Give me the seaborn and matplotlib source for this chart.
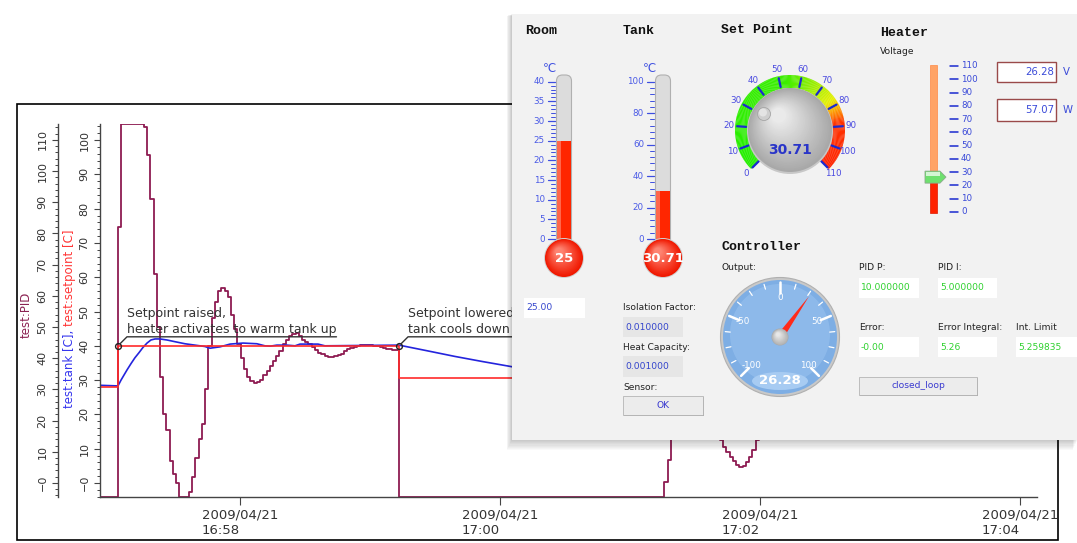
import numpy as np
import matplotlib
matplotlib.use("Agg")
import matplotlib.pyplot as plt
import seaborn as sns
from matplotlib.patches import Rectangle, Circle, Wedge, Polygon, FancyBboxPatch, Ellipse
from matplotlib.colors import LinearSegmentedColormap, to_rgb
from matplotlib.ticker import FuncFormatter

W, H = 1077, 543

# ---- trend data (time in seconds relative to 2009/04/21 16:58:00) ----
PID_MIN = -4.5
PID_T0 = -56.3          # setpoint raised
PID_DT = 1.49
PID_A = [82, 115, 115, 115, 115, 115, 115, 115, 114, 105, 91, 67, 50, 34, 22, 17, 7, 3, 0,
         -4.5, -4.5, -4.5, -3, 2, 8, 14, 19, 30, 44, 53, 58, 61.5, 62.5, 61.5, 59.5, 54, 49.5,
         44.5, 40, 36.5, 34, 32.8, 32.2, 32.3, 33, 34.5, 36, 37.6, 39.2, 40.7, 42.4, 44.4, 46,
         47, 47.8, 48, 47.2, 46, 45.3, 44.6, 43.6, 42.6, 41.7, 41.2, 40.7, 40.4, 40.5, 40.8, 41,
         41.5, 42.2, 42.8, 43.3, 43.6, 43.9, 44.1, 44.2, 44.2, 44.1, 44, 43.9, 43.6, 43.3, 43,
         42.8, 42.7, 42.6]
PID_OFF_T = 73.4        # setpoint lowered
PID_B_T0 = 195.9
PID_B_DT = 1.5
PID_B = [0.3, 7.4, 20, 35, 48, 56, 60, 61, 59, 54, 47, 40, 33, 27, 22, 18, 15.5, 13.8, 11.5,
         10, 8.2, 7, 5.8, 5.1, 5.6, 6.8, 8.3, 10.6, 13.8, 17, 21, 25, 29, 33, 36, 38, 39, 39,
         38, 36, 34, 32, 30, 28.5, 27.5, 27, 26.8, 26.9, 27.2, 27.4, 27.3, 27, 26.7, 26.5,
         26.4, 26.3, 26.28]

TANK_T = [-70, -56.3, -54.9, -53.5, -52.1, -50.3, -48.5, -46.6, -44.8, -42.9, -41.1, -39.2,
          -36.9, -33.7, -30.0, -25.4, -20.8, -16.2, -13.8, -9.2, -4.6, 1.4, 7.8, 11.5, 14, 17,
          21.7, 25.4, 27.7, 36, 39.2, 73.4, 86, 99.2, 112, 125.5, 140, 155, 170, 185, 200,
          215, 230, 250, 270, 300, 330, 360]
TANK_V = [28.6, 28.3, 30, 31.5, 33, 34.8, 36.5, 38, 39.5, 40.8, 41.7, 42, 42, 41.7, 41.2,
          40.6, 40.2, 39.8, 39.3, 39.7, 40.5, 40.8, 40.6, 40.0, 39.9, 40.2, 40.2, 40.0, 40.5,
          40.5, 40.0, 40.2, 38.6, 36.9, 35.4, 33.9, 32.6, 31.6, 30.8, 30.3, 30.1, 30.3, 30.6,
          30.9, 30.8, 30.7, 30.71, 30.71]

SP_T = [-70, -56.3, 73.4, 370]
SP_V = [28.1, 40, 30.71, 30.71]

EVENT_T = [-56.3, 73.4]
EVENT_V = [40, 40]
EVENT_TEXT = ["Setpoint raised,\nheater activates to warm tank up",
              "Setpoint lowered,\ntank cools down"]

TICK_DATE = "2009/04/21"
TICK_SEC = [0, 120, 240, 360]
TICK_TIME = ["16:58", "17:00", "17:02", "17:04"]

# ---- panel values ----
ROOM_TEMP = 25.0
TANK_TEMP = 30.71
SETPOINT = 30.71
HEATER_V = 26.28
HEATER_W = 57.07
ROOM_ENTRY = "25.00"
ISOLATION = "0.010000"
HEAT_CAP = "0.001000"
PID_P = "10.000000"
PID_I = "5.000000"
ERROR = "-0.00"
ERR_INT = "5.26"
INT_LIMIT = "5.259835"

PID_COLOR = "#8e1b52"
TANK_COLOR = "#2424dd"
SP_COLOR = "#ff2a2a"
AX_COLOR = "#444444"

sns.set_style("ticks")
plt.rcParams["font.family"] = ["DejaVu Sans"]

fig = plt.figure(figsize=(W / 100, H / 100), dpi=100)
fig.patch.set_facecolor("white")


def px_box(x0, y0, x1, y1):
    return [x0 / W, 1 - y1 / H, (x1 - x0) / W, (y1 - y0) / H]


ax = fig.add_axes(px_box(100, 124, 1037, 497))
ax_pid = ax.twinx()
ax.set_zorder(ax_pid.get_zorder() + 1)
ax.patch.set_visible(False)

pid_t = [-70] + [PID_T0 + k * PID_DT for k in range(len(PID_A))] + [PID_OFF_T] + \
        [PID_B_T0 + k * PID_B_DT for k in range(len(PID_B))]
pid_v = [PID_MIN] + PID_A + [PID_MIN] + PID_B

sns.lineplot(x=pid_t, y=pid_v, ax=ax_pid, color=PID_COLOR, lw=1.3,
             drawstyle="steps-post", estimator=None, sort=False)
sns.lineplot(x=TANK_T, y=TANK_V, ax=ax, color=TANK_COLOR, lw=1.2, estimator=None, sort=False)
sns.lineplot(x=SP_T, y=SP_V, ax=ax, color=SP_COLOR, lw=1.2,
             drawstyle="steps-post", estimator=None, sort=False)
ax.plot(EVENT_T, EVENT_V, "o", mfc="none", mec="#222222", ms=4.2, mew=1.0, zorder=5)

ax.set_xlim(-64.6, 367.8)
ax.set_ylim(-4.1, 104.7)
ax_pid.set_ylim(-4.5, 115.1)
for a in (ax, ax_pid):
    a.set_xlabel("")
    a.set_ylabel("")

zero_fmt = FuncFormatter(lambda v, p: "\u22120" if abs(v) < 1e-9 else f"{v:.0f}")
ax.set_yticks(np.arange(0, 101, 10))
ax.set_yticks(np.arange(-4, 105, 2), minor=True)
ax.yaxis.set_major_formatter(zero_fmt)
ax_pid.set_yticks(np.arange(0, 111, 10))
ax_pid.set_yticks(np.arange(-4, 116, 2), minor=True)
ax_pid.yaxis.set_major_formatter(zero_fmt)

ax.set_xticks(TICK_SEC)
ax.set_xticklabels([f"{TICK_DATE}\n{t}" for t in TICK_TIME])
for lbl in ax.get_xticklabels():
    lbl.set_multialignment("left")

ax.spines["top"].set_visible(False)
ax.spines["right"].set_visible(False)
for s in ("top", "right", "bottom"):
    ax_pid.spines[s].set_visible(False)
ax_pid.spines["left"].set_visible(True)
ax_pid.spines["left"].set_position(("outward", 30.2))
ax_pid.yaxis.tick_left()
for a in (ax, ax_pid):
    for s in a.spines.values():
        s.set_color(AX_COLOR)
        s.set_linewidth(1.0)
    a.tick_params(axis="y", which="major", length=4.4, width=0.8, color=AX_COLOR,
                  labelsize=8, labelcolor="#333333", labelrotation=90, pad=3.2)
    a.tick_params(axis="y", which="minor", length=2.4, width=0.7, color=AX_COLOR)
ax.tick_params(axis="x", which="major", length=5.5, width=0.8, color=AX_COLOR,
               labelsize=9.5, labelcolor="#333333", pad=3)
for a in (ax, ax_pid):
    for lbl in a.get_yticklabels():
        lbl.set_va("center")

# ---- overlay in pixel coordinates ----
ov = fig.add_axes([0, 0, 1, 1])
ov.set_xlim(0, W)
ov.set_ylim(H, 0)
ov.axis("off")
ov.set_zorder(10)
ov.patch.set_visible(False)

ov.add_patch(Rectangle((17, 104), 1041, 436, fill=False, ec="black", lw=1.2, zorder=1))

ov.text(26, 315, "test:PID", rotation=90, ha="center", va="center",
        color="#8b2252", fontsize=8.5, zorder=2)
blue_lbl = ov.text(70, 408, "test:tank [C], ", rotation=90, ha="center", va="bottom",
                   color="#3535ee", fontsize=8.5, zorder=2)
fig.canvas.draw()
bb = blue_lbl.get_window_extent()
ov.text(70, H - bb.y1, "test:setpoint [C]", rotation=90, ha="center", va="bottom",
        color="#ff3535", fontsize=8.5, zorder=2)

# annotations: leader + underline
for t, v, txt in zip(EVENT_T, EVENT_V, EVENT_TEXT):
    dx, dy = ax.transData.transform((t, v))
    x0, y0 = dx, H - dy
    tx = ov.text(x0 + 9, y0 - 10, txt, ha="left", va="bottom", fontsize=9,
                 color="#333333", linespacing=1.3, zorder=2)
    fig.canvas.draw()
    tb = tx.get_window_extent()
    ov.plot([x0 + 2, x0 + 9, x0 + 9 + tb.width], [y0 - 2, y0 - 9, y0 - 9],
            color="#333333", lw=1.0, zorder=2)

# ---- GUI panel ----
for i in range(1, 10):
    ov.add_patch(Rectangle((512 - i * 0.6, 14 + i * 0.2), 566, 426 + i * 0.9,
                           fc="black", ec="none", alpha=0.022, zorder=4))
ov.add_patch(Rectangle((512, 14), 566, 426, fc="#f2f2f2", ec="none", zorder=5))

TITLE = dict(family="Liberation Mono", weight="bold", fontsize=9.5, color="#111111",
             va="center", ha="left", zorder=8)
SMALL = dict(fontsize=6.6, color="#222222", va="center", ha="left", zorder=8)
for x, y, s in [(525, 31, "Room"), (623, 31, "Tank"), (721, 30, "Set Point"),
                (880, 33, "Heater"), (721, 247, "Controller")]:
    ov.text(x, y, s, **TITLE)
for x, y, s in [(880, 52, "Voltage"), (721, 268, "Output:"), (623, 308, "Isolation Factor:"),
                (623, 347, "Heat Capacity:"), (623, 387, "Sensor:"), (859, 268, "PID P:"),
                (938, 268, "PID I:"), (859, 328, "Error:"), (938, 328, "Error Integral:"),
                (1016, 328, "Int. Limit")]:
    ov.text(x, y, s, **SMALL)

SCALE_C = "#3d4ee0"
LABEL_C = "#4b5be6"


def shaded_ball(cx, cy, r, dark, light, steps=24, z=7):
    c0, c1 = np.array(to_rgb(dark)), np.array(to_rgb(light))
    for i in range(steps):
        f = i / steps
        rr = r * (1 - 0.85 * f)
        ov.add_patch(Circle((cx - 0.28 * r * f, cy - 0.36 * r * f), rr,
                            fc=tuple(c0 + (c1 - c0) * f), ec="none", zorder=z))


def thermometer(cx, vmax, value, major, minor, text):
    y_zero, y_max, bulb_y = 239.0, 81.7, 258.0
    to_y = lambda v: y_zero - v / vmax * (y_zero - y_max)
    ov.add_patch(FancyBboxPatch((cx - 7.5, 75), 15, bulb_y - 75,
                                boxstyle="round,pad=0,rounding_size=6",
                                fc="#dcdcdc", ec="#b0b0b0", lw=0.8, zorder=6))
    yv = to_y(value)
    ov.add_patch(Rectangle((cx - 6.6, yv), 13.2, bulb_y - yv, fc="#ff2600", ec="none", zorder=7))
    ov.add_patch(Rectangle((cx - 6.6, yv), 3.5, bulb_y - yv, fc="white", ec="none",
                           alpha=0.3, zorder=7))
    ov.add_patch(Circle((cx, bulb_y), 20, fc="#d0d0d0", ec="none", zorder=7))
    shaded_ball(cx, bulb_y, 19, "#f01800", "#ff8a78", steps=16)
    ov.text(cx, bulb_y + 1, text, color="white", weight="bold", fontsize=9.5,
            ha="center", va="center", zorder=8)
    for v in np.arange(0, vmax + 0.01, minor):
        is_major = abs(v % major) < 1e-6
        y = to_y(v)
        ov.plot([cx - (16.5 if is_major else 13.5), cx - 9.5], [y, y], color=SCALE_C,
                lw=0.9 if is_major else 0.7, zorder=7)
        if is_major:
            ov.text(cx - 19, y, f"{v:.0f}", color=LABEL_C, fontsize=6.3,
                    ha="right", va="center", zorder=8)
    ov.text(cx - 14, 69, "\u2103", color=SCALE_C, fontsize=8.5, ha="center", va="center",
            zorder=8)


thermometer(564, 40, ROOM_TEMP, 5, 1, f"{ROOM_TEMP:g}")
thermometer(663, 100, TANK_TEMP, 20, 4, f"{TANK_TEMP:.2f}")


def polar(cx, cy, r, ang):
    return cx + r * np.cos(np.radians(ang)), cy - r * np.sin(np.radians(ang))


# set point dial
dcx, dcy = 790, 130
dial_ang = lambda v: 225 - v * 270 / 110
ring_cmap = LinearSegmentedColormap.from_list(
    "ring", [(0, "#22ee00"), (0.48, "#3bee00"), (0.62, "#a8ee00"), (0.70, "#e6f000"),
             (0.75, "#ff9a00"), (0.80, "#ff3300"), (1, "#ff2200")])
for v in np.arange(0, 110, 0.5):
    ov.add_patch(Wedge((dcx, dcy), 55, -dial_ang(v), -dial_ang(v + 0.5) + 0.2, width=13,
                       fc=ring_cmap(v / 110), ec="none", zorder=6))
for v in range(0, 111, 10):
    a = dial_ang(v)
    (x1, y1), (x2, y2) = polar(dcx, dcy, 44, a), polar(dcx, dcy, 53, a)
    ov.plot([x1, x2], [y1, y2], color="#1a2ad0", lw=1.6, zorder=7)
    lx, ly = polar(dcx, dcy, 61.5, a)
    ov.text(lx, ly, str(v), color="#4a4ae0", fontsize=6.3, ha="center", va="center", zorder=8)
ov.add_patch(Circle((dcx, dcy + 1), 43, fc="#c8c8c8", ec="none", zorder=7))
shaded_ball(dcx, dcy, 42, "#a8a8a8", "#ececec", steps=30)
ov.add_patch(Circle((764, 114), 6.5, fc="#cfcfcf", ec="#a5a5a5", lw=0.6, zorder=8))
ov.add_patch(Circle((763, 112.5), 4, fc="#e4e4e4", ec="none", zorder=8))
ov.text(dcx, 150, f"{SETPOINT:.2f}", color="#2a35c8", weight="bold", fontsize=10,
        ha="center", va="center", zorder=9)

# heater slider
sl_y = lambda v: 212 - v * 146 / 110
yv = sl_y(HEATER_V)
ov.add_patch(Rectangle((930, 65), 7, yv - 65, fc="#ffa366", ec="#ff8844", lw=0.5, zorder=6))
ov.add_patch(Rectangle((930, yv), 7, 213 - yv, fc="#ff2200", ec="#dd1a00", lw=0.5, zorder=6))
ov.add_patch(Polygon([(925, yv - 6), (940, yv - 6), (946, yv), (940, yv + 6), (925, yv + 6)],
                     closed=True, fc="#6ee06e", ec="#8aa88a", lw=0.6, zorder=7))
ov.add_patch(Rectangle((926, yv - 5), 14, 4, fc="white", ec="none", alpha=0.7, zorder=7))
for v in range(0, 111, 10):
    y = sl_y(v)
    ov.plot([950, 958], [y, y], color="#1a2ad0", lw=1.1, zorder=7)
    ov.text(961, y, str(v), color="#3a4ad8", fontsize=6.3, ha="left", va="center", zorder=8)
for (y0, y1), val, unit in [((62, 82), HEATER_V, "V"), ((99, 121), HEATER_W, "W")]:
    ov.add_patch(Rectangle((997, y0), 59, y1 - y0, fc="white", ec="#9a4a4a", lw=1.0, zorder=6))
    ov.text(1054, (y0 + y1) / 2, f"{val:.2f}", color="#3a4ad8", fontsize=7.3,
            ha="right", va="center", zorder=8)
    ov.text(1063, (y0 + y1) / 2, unit, color="#3a4ad8", fontsize=7.3,
            ha="left", va="center", zorder=8)

# output gauge
gcx, gcy = 780, 337
g_ang = lambda v: 90 - 1.35 * v
ov.add_patch(Circle((gcx, gcy), 59.5, fc="#c9c9c9", ec="#b0b0b0", lw=0.8, zorder=6))
ov.add_patch(Circle((gcx, gcy), 57, fc="#7eaee4", ec="none", zorder=6))
ov.add_patch(Circle((gcx, gcy - 3), 50, fc="#92bdec", ec="none", alpha=0.8, zorder=6))
ov.add_patch(Ellipse((gcx, 381), 56, 18, fc="#a7cbf2", ec="none", zorder=6))
for v in np.arange(-100, 100.1, 12.5):
    major = abs(v % 50) < 1e-6
    (x1, y1) = polar(gcx, gcy, 44 if major else 50, g_ang(v))
    (x2, y2) = polar(gcx, gcy, 55, g_ang(v))
    ov.plot([x1, x2], [y1, y2], color="white", lw=1.8 if major else 0.9, zorder=7)
for v in (-100, -50, 0, 50, 100):
    lx, ly = polar(gcx, gcy, 40, g_ang(v))
    ov.text(lx, ly, f"{v}", color="white", fontsize=6.3, ha="center", va="center", zorder=8)
ov.text(gcx, 381, f"{HEATER_V:.2f}", color="white", weight="bold", fontsize=9.5,
        ha="center", va="center", zorder=8)
na = np.radians(g_ang(HEATER_V))
tip = polar(gcx, gcy, 50, g_ang(HEATER_V))
bl = (gcx + 3.5 * np.sin(na), gcy + 3.5 * np.cos(na))
br = (gcx - 3.5 * np.sin(na), gcy - 3.5 * np.cos(na))
ov.add_patch(Polygon([tip, bl, br], closed=True, fc="#ff2a1a", ec="none", zorder=8))
ov.add_patch(Circle((gcx, gcy), 8.5, fc="#a9a9a9", ec="none", zorder=9))
shaded_ball(gcx, gcy, 8, "#b5b5b5", "#eeeeee", steps=10, z=9)


# entry fields and buttons
def entry(x0, y0, x1, y1, text, fc, tc):
    ov.add_patch(Rectangle((x0, y0), x1 - x0, y1 - y0, fc=fc, ec="none", zorder=6))
    ov.text(x0 + 2, (y0 + y1) / 2, text, color=tc, fontsize=6.6, ha="left", va="center",
            zorder=8)


def button(x0, y0, x1, y1, text):
    ov.add_patch(Rectangle((x0 + 1, y0 + 1), x1 - x0, y1 - y0, fc="#8a8a8a", ec="none", zorder=6))
    ov.add_patch(Rectangle((x0, y0), x1 - x0, y1 - y0, fc="#ececec", ec="#b5b5b5", lw=0.6,
                           zorder=6))
    ov.text((x0 + x1) / 2, (y0 + y1) / 2, text, color="#3a3ad0", fontsize=6.6,
            ha="center", va="center", zorder=8)


GREEN = "#2ed12e"
BLUE = "#3344cc"
entry(524, 298, 585, 318, ROOM_ENTRY, "white", BLUE)
entry(623, 317, 683, 337, ISOLATION, "#e6e6e6", BLUE)
entry(623, 356, 683, 377, HEAT_CAP, "#e6e6e6", BLUE)
entry(859, 278, 919, 298, PID_P, "white", GREEN)
entry(938, 278, 997, 298, PID_I, "white", GREEN)
entry(859, 337, 919, 357, ERROR, "white", GREEN)
entry(938, 337, 997, 357, ERR_INT, "white", GREEN)
entry(1016, 337, 1077, 357, INT_LIMIT, "white", GREEN)
button(623, 396, 703, 415, "OK")
button(859, 377, 977, 395, "closed_loop")

fig.savefig("out.png", dpi=100)
